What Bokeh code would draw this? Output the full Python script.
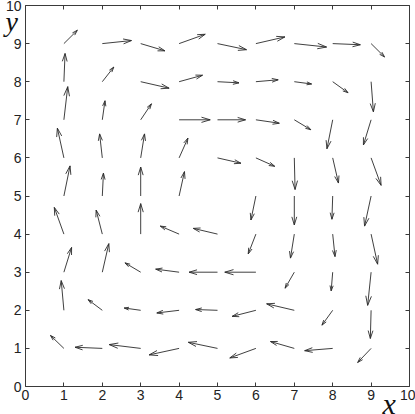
from bokeh.plotting import figure
from bokeh.models import LinearAxis, FixedTicker, Range1d, ColumnDataSource, CustomJSTickFormatter
from bokeh.embed import file_html
from bokeh.resources import INLINE

# grid positions
x_grid = [1, 2, 3, 4, 5, 6, 7, 8, 9]
y_grid = [1, 2, 3, 4, 5, 6, 7, 8, 9]

# vector components, one row per y value (y = 1 .. 9)
U = [
    [-0.35, -0.71, -0.82, -0.78, -0.76, -0.68, -0.62, -0.73, -0.35],
    [-0.07, -0.37, -0.43, -0.58, -0.57, -0.62, -0.72, -0.28, -0.02],
    [0.20, 0.17, -0.41, -0.61, -0.74, -0.81, -0.24, -0.04, -0.09],
    [-0.25, -0.16, 0.00, -0.49, -0.63, -0.20, -0.10, 0.06, 0.17],
    [0.16, 0.03, 0.00, 0.14, 0.00, -0.13, 0.00, -0.02, -0.17],
    [-0.17, -0.07, 0.10, 0.23, 0.61, 0.49, 0.02, 0.15, 0.26],
    [0.10, 0.07, 0.28, 0.81, 0.73, 0.61, 0.43, -0.15, -0.20],
    [0.03, 0.30, 0.74, 0.61, 0.56, 0.58, 0.45, 0.40, 0.06],
    [0.35, 0.76, 0.63, 0.68, 0.755, 0.755, 0.84, 0.72, 0.35],
]
V = [
    [0.34, 0.03, 0.10, -0.17, 0.16, -0.25, 0.18, -0.06, -0.37],
    [0.78, 0.28, 0.06, -0.07, 0.02, -0.16, 0.17, -0.39, -0.74],
    [0.65, 0.75, 0.245, 0.08, 0.00, 0.00, -0.42, -0.49, -0.87],
    [0.70, 0.63, 0.80, 0.21, 0.15, -0.52, -0.63, -0.59, -0.79],
    [0.79, 0.60, 0.76, 0.64, 0.00, -0.63, -0.76, -0.61, -0.79],
    [0.78, 0.63, 0.63, 0.52, -0.14, -0.22, -0.83, -0.66, -0.72],
    [0.87, 0.50, 0.42, 0.00, 0.00, -0.09, -0.26, -0.76, -0.66],
    [0.74, 0.385, -0.17, 0.17, -0.03, 0.05, -0.06, -0.29, -0.79],
    [0.35, 0.08, -0.19, 0.245, -0.16, 0.175, -0.09, -0.03, -0.35],
]

axis_ticks = [0, 1, 2, 3, 4, 5, 6, 7, 8, 9, 10]
x_label = "x"
y_label = "y"

ALPHA = 0.28  # head length relative to arrow length
BETA = 0.30   # head half-width relative to head length

x0, y0, x1, y1 = [], [], [], []
hx, hy = [], []
for j, yy in enumerate(y_grid):
    for i, xx in enumerate(x_grid):
        u = U[j][i]
        v = V[j][i]
        if u == 0 and v == 0:
            continue
        tx, ty = xx + u, yy + v
        x0.append(xx); y0.append(yy); x1.append(tx); y1.append(ty)
        b1x = tx - ALPHA * (u + BETA * v)
        b1y = ty - ALPHA * (v - BETA * u)
        b2x = tx - ALPHA * (u - BETA * v)
        b2y = ty - ALPHA * (v + BETA * u)
        hx.append([b1x, tx, b2x])
        hy.append([b1y, ty, b2y])

p = figure(width=415, height=414, x_range=Range1d(0, 10), y_range=Range1d(0, 10),
           output_backend="svg", toolbar_location=None,
           min_border_left=25, min_border_right=6, min_border_top=5, min_border_bottom=28)
p.outline_line_color = None
p.xgrid.visible = False
p.ygrid.visible = False

AX_COLOR = "#3a3a3a"
TICK_FONT = "Liberation Sans"
LABEL_FONT = "Liberation Serif"

for ax in (p.xaxis[0], p.yaxis[0]):
    ax.ticker = FixedTicker(ticks=axis_ticks)
    ax.major_tick_in = 4
    ax.major_tick_out = 0
    ax.minor_tick_line_color = None
    ax.axis_line_color = AX_COLOR
    ax.major_tick_line_color = AX_COLOR
    ax.major_label_text_font = TICK_FONT
    ax.major_label_text_font_size = "14px"
    ax.major_label_text_color = "#222222"

p.xaxis[0].major_label_standoff = 3
p.yaxis[0].major_label_standoff = 4

# y label: left axis, horizontal, at the top end
ya = p.yaxis[0]
ya.axis_label = "\n" + y_label
ya.axis_label_orientation = "horizontal"
ya.axis_label_align = "end"
ya.axis_label_standoff = -15
ya.axis_label_text_font = LABEL_FONT
ya.axis_label_text_font_style = "italic"
ya.axis_label_text_font_size = "28px"
ya.axis_label_text_line_height = 1.0
ya.axis_label_text_color = "#111111"

extra = {}
for side in ("above", "right"):
    ax = LinearAxis(ticker=FixedTicker(ticks=axis_ticks),
                    formatter=CustomJSTickFormatter(code="return ''"),
                    major_label_text_font_size="0px", major_label_standoff=0,
                    major_tick_in=4, major_tick_out=0,
                    minor_tick_line_color=None,
                    axis_line_color=AX_COLOR, major_tick_line_color=AX_COLOR)
    p.add_layout(ax, side)
    extra[side] = ax

# x label: carried by the right-hand axis, at its bottom end
xa = extra["right"]
xa.axis_label = "\n" + x_label
xa.axis_label_orientation = "horizontal"
xa.axis_label_align = "start"
xa.axis_label_standoff = -27
xa.axis_label_text_font = LABEL_FONT
xa.axis_label_text_font_style = "italic"
xa.axis_label_text_font_size = "30px"
xa.axis_label_text_line_height = 1.0
xa.axis_label_text_color = "#111111"

shaft = ColumnDataSource(dict(x0=x0, y0=y0, x1=x1, y1=y1))
p.segment("x0", "y0", "x1", "y1", source=shaft, line_color="#2a2a2a", line_width=0.9)
heads = ColumnDataSource(dict(xs=hx, ys=hy))
p.multi_line("xs", "ys", source=heads, line_color="#2a2a2a", line_width=0.9)

open("out.html", "w").write(file_html(p, INLINE))
